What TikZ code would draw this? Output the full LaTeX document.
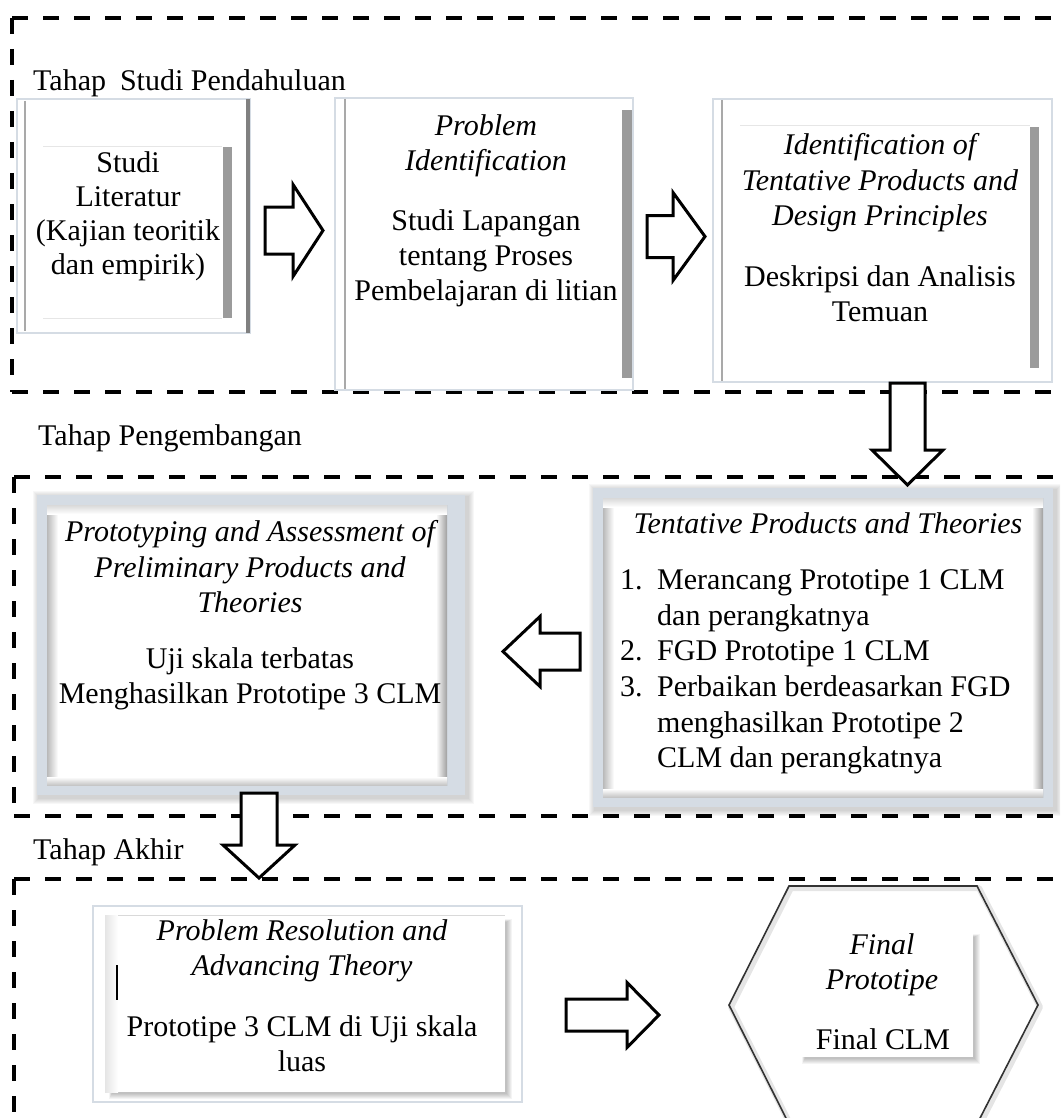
\documentclass[tikz,border=0pt]{standalone}
\usepackage{fontspec}
\setmainfont{Liberation Serif}
\usetikzlibrary{calc}

\definecolor{frameblue}{HTML}{D5DCE4}
\definecolor{bargray}{HTML}{9B9B9B}
\definecolor{edgegray}{HTML}{A9A9A9}
\definecolor{faintgray}{HTML}{E6E6E6}

% soft glow around a rectangular panel: x1, y1, x2, y2
\newcommand{\panelshadow}[4]{%
  \foreach \k in {1,...,6}{%
    \fill[black,opacity=0.03] ({#1+2-\k},{#2+2-\k}) rectangle ({#3+3+\k},{#4+3+\k});}}
% soft shadow to the lower right of a panel: x1, y1, x2, y2
\newcommand{\cornershadow}[4]{%
  \foreach \k in {1,...,6}{%
    \fill[black,opacity=0.045] ({#1+7-0.5*\k},{#2+7-0.5*\k}) rectangle ({#3+1+\k},{#4+1+\k});}}

\tikzset{
  hline/.style={line width=4.5pt, dash pattern=on 16pt off 15pt},
  vline/.style={line width=3.5pt, dash pattern=on 16pt off 15pt},
  arrowline/.style={draw=black, fill=white, line width=3pt, line join=miter},
  pics/blockarrow/.style n args={4}{code={%
    \path[arrowline] (0,-#2) -- (#3,-#2) -- (#3,-#4) -- (#1,0) -- (#3,#4) -- (#3,#2) -- (0,#2) -- cycle;}},
  bodytext/.style={font=\fontsize{30}{35}\selectfont, align=center, inner sep=0pt},
  titletext/.style={font=\fontsize{30}{35.5}\selectfont\itshape, align=center, inner sep=0pt},
  stagelabel/.style={font=\fontsize{30}{35}\selectfont, inner sep=0pt, anchor=base west},
  thinframe/.style={draw=frameblue, line width=2pt, fill=white, inner sep=0pt},
  thickframe/.style={fill=frameblue, inner sep=0pt},
}

\begin{document}
\begin{tikzpicture}[x=1pt,y=-1pt]
\useasboundingbox (0,0) rectangle (1060,1118);
\clip (0,0) rectangle (1060,1118);

% ---------- stage frames ----------
\draw[hline] (12,18) -- (1080,18);
\draw[vline] (12,18) -- (12,392);
\draw[hline] (12,392) -- (1080,392);

\draw[hline] (14,477) -- (1080,477);
\draw[vline] (14,477) -- (14,816);
\draw[hline] (14,816) -- (1080,816);

\draw[hline] (14,879) -- (1080,879);
\draw[vline] (14,879) -- (14,1130);

% ---------- stage labels ----------
\node[stagelabel] (lab1) at (33,91) {Tahap\hspace{14pt}Studi Pendahuluan};
\node[stagelabel] (lab2) at (38,445) {Tahap Pengembangan};
\node[stagelabel] (lab3) at (33,859) {Tahap Akhir};

% ---------- stage 1 boxes ----------
\node[thinframe, minimum width=233pt, minimum height=234pt] (b1) at (133.5,216) {};
\draw[edgegray, line width=2pt] (25,101) -- (25,331);
\draw[gray, line width=4pt] (248,99) -- (248,333);
\draw[faintgray, line width=1pt] (43,147) -- (222,147) (43,318) -- (222,318);
\fill[bargray] (223,147) rectangle (232,318);
\node[bodytext, font=\fontsize{30}{34}\selectfont] (t1) at (128,216)
  {Studi\\Literatur\\(Kajian teoritik\\dan empirik)};

\node[thinframe, minimum width=298pt, minimum height=292pt] (b2) at (484,244) {};
\draw[edgegray, line width=2pt] (345,99) -- (345,389);
\fill[bargray] (622,110) rectangle (632,378);
\node[titletext] (t2a) at (486,146) {Problem\\Identification};
\node[bodytext] (t2b) at (486,258) {Studi Lapangan\\tentang Proses\\Pembelajaran di litian};

\node[thinframe, minimum width=339pt, minimum height=283pt] (b3) at (882.5,240.5) {};
\draw[edgegray, line width=2pt] (722,100) -- (722,381);
\draw[faintgray, line width=1pt] (740,126) -- (1030,126);
\fill[bargray] (1030,127) rectangle (1039,368);
\node[titletext] (t3a) at (880,183) {Identification of\\Tentative Products and\\Design Principles};
\node[bodytext] (t3b) at (880,294) {Deskripsi dan Analisis\\Temuan};

% ---------- stage 2 boxes ----------
\panelshadow{37}{495}{465}{795}
\node[thickframe, minimum width=428pt, minimum height=300pt] (b4) at (251,645) {};
\fill[white] (47,505) rectangle (447,785);
\shade[left color=gray!55, right color=white] (47,505) rectangle (58,785);
\shade[left color=white, right color=gray!75] (436,505) rectangle (447,785);
\shade[top color=gray!30, bottom color=white] (47,505) rectangle (447,514);
\shade[top color=white, bottom color=gray!45] (47,777) rectangle (447,785);
\node[titletext] (t4a) at (250,567) {Prototyping and Assessment of\\Preliminary Products and\\Theories};
\node[bodytext] (t4b) at (250,679) {Uji skala terbatas\\Menghasilkan Prototipe 3 CLM};

\panelshadow{593}{488}{1053}{807}
\node[thickframe, minimum width=460pt, minimum height=319pt] (b5) at (823,647.5) {};
\fill[white] (603,498) rectangle (1043,797);
\shade[left color=gray!55, right color=white] (603,498) rectangle (614,797);
\shade[left color=white, right color=gray!75] (1032,498) rectangle (1043,797);
\shade[top color=gray!30, bottom color=white] (603,498) rectangle (1043,507);
\shade[top color=white, bottom color=gray!45] (603,789) rectangle (1043,797);
\node[titletext] (t5a) at (828,523) {Tentative Products and Theories};
\node[font=\fontsize{30}{35.6}\selectfont, align=left, inner sep=0pt, anchor=west] (t5b) at (620,672)
  {\makebox[37pt][l]{1.}Merancang Prototipe 1 CLM\\
   \hspace*{37pt}dan perangkatnya\\
   \makebox[37pt][l]{2.}FGD Prototipe 1 CLM\\
   \makebox[37pt][l]{3.}Perbaikan berdeasarkan FGD\\
   \hspace*{37pt}menghasilkan Prototipe 2\\
   \hspace*{37pt}CLM dan perangkatnya};

% ---------- stage 3 boxes ----------
\node[thinframe, minimum width=429pt, minimum height=196pt] (b6) at (307.5,1004) {};
\cornershadow{105}{915}{505}{1092}
\fill[white] (105,915) rectangle (505,1092);
\shade[left color=gray!20, right color=white] (105,915) rectangle (118,1092);
\draw[gray!30, line width=1pt] (118,915) -- (505,915);
\draw[line width=1.5pt] (117,965) -- (117,1000);
\node[titletext] (t6a) at (302,951) {Problem Resolution and\\Advancing Theory};
\node[bodytext] (t6b) at (302,1044) {Prototipe 3 CLM di Uji skala\\luas};

\node[minimum width=309pt, minimum height=238pt, inner sep=0pt] (hex) at (883.5,1005) {};
\fill[white] (729,1005) -- (789,886) -- (977,886) -- (1038,1005) -- (977,1124) -- (789,1124) -- cycle;
\draw[black, opacity=0.10, line width=6pt, line join=round]
  (731,1007) -- (791,888) -- (979,888) -- (1040,1007) -- (979,1126) -- (791,1126) -- cycle;
\draw[black!80, line width=1.6pt, line join=miter]
  (729,1005) -- (789,886) -- (977,886) -- (1038,1005) -- (977,1124) -- (789,1124) -- cycle;
\cornershadow{798}{930}{973}{1057}
\fill[white] (798,930) rectangle (973,1057);
\node[titletext] (t7a) at (882,965) {Final\\Prototipe};
\node[bodytext] (t7b) at (883,1039) {Final CLM};

% ---------- block arrows ----------
\pic at (265,230.5) {blockarrow={58}{23.5}{28}{46}};
\pic at (647,236.5) {blockarrow={58}{21}{26}{44}};
\pic[rotate=-90] at (907.5,383) {blockarrow={102}{17.5}{67}{35.5}};
\pic[rotate=180] at (580,651.5) {blockarrow={77}{18.5}{40}{35}};
\pic[rotate=-90] at (259,793) {blockarrow={85}{18}{52}{36}};
\pic at (566,1015) {blockarrow={93}{16}{61}{32.5}};

\end{tikzpicture}
\end{document}
